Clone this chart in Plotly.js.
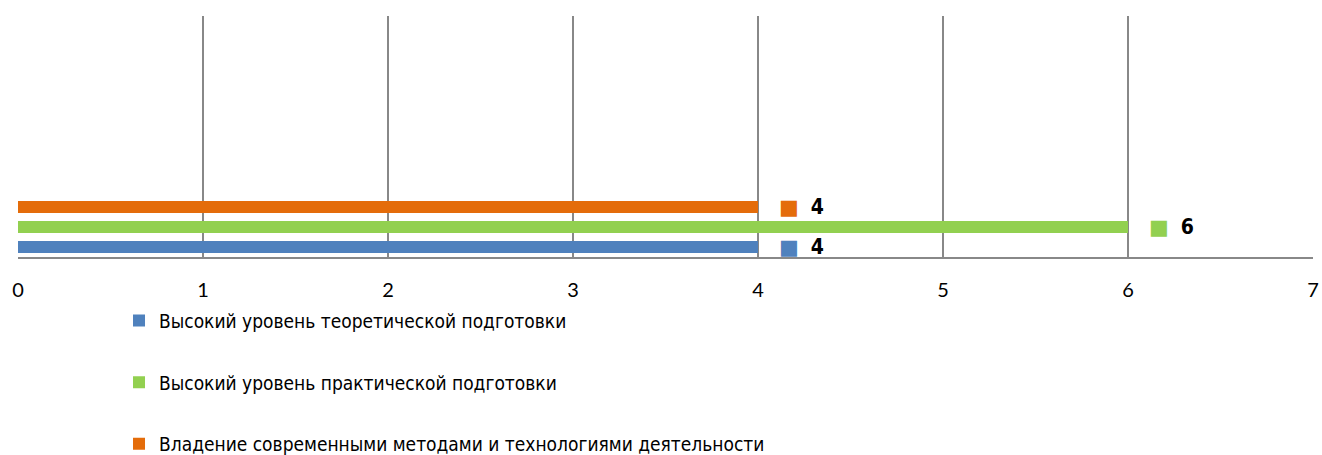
<!DOCTYPE html>
<html><head><meta charset="utf-8">
<script src="https://cdn.plot.ly/plotly-3.0.1.min.js"></script>
<style>html,body{margin:0;padding:0;background:#fff;}#chart{width:1322px;height:455px;}</style>
</head><body><div id="chart"></div>
<script>
var categories = ["Категория"];
var seriesNames = [
  "Высокий уровень теоретической подготовки",
  "Высокий уровень практической подготовки",
  "Владение современными методами и технологиями деятельности"
];
var seriesValues = [[4], [6], [4]];
var seriesColors = ["#4F81BD", "#92D050", "#E46C0A"];
var xTickVals = [0, 1, 2, 3, 4, 5, 6, 7];

var narrow = "Liberation Sans Narrow, DejaVu Sans Condensed, sans-serif";

var traces = seriesNames.map(function(name, i){
  return {
    type: "bar", orientation: "h", name: name,
    y: categories, x: seriesValues[i],
    marker: {color: seriesColors[i]},
    legendgroup: "g" + i,
    texttemplate: "&nbsp;&nbsp;&nbsp;<span style='color:" + seriesColors[i] + ";font-family:DejaVu Sans;font-size:21px'>■</span>&nbsp;&nbsp;<b>%{x}</b>",
    textposition: "outside",
    constraintext: "none",
    cliponaxis: false,
    textfont: {family: narrow, size: 21, color: "#000"},
    hoverinfo: "skip"
  };
});

var layout = {
  width: 1322, height: 455,
  margin: {l: 18, r: 9, t: 16, b: 198, autoexpand: false},
  paper_bgcolor: "#fff", plot_bgcolor: "#fff",
  barmode: "group", bargap: 0, bargroupgap: 0.4,
  showlegend: true,
  legend: {
    orientation: "v", x: 0.078, y: -0.185, xanchor: "left", yanchor: "top",
    tracegroupgap: 34, traceorder: "grouped",
    font: {family: narrow, size: 19, color: "#000"}
  },
  xaxis: {
    range: [0, 7], tickvals: xTickVals, ticktext: xTickVals.map(String),
    showgrid: true, gridcolor: "#888888", gridwidth: 1.5,
    zeroline: false, showline: true, linecolor: "#888888", linewidth: 1.5,
    ticks: "", ticklabelstandoff: 14,
    tickfont: {family: "Lato, Carlito, sans-serif", size: 20, color: "#000"},
    automargin: false, fixedrange: true
  },
  yaxis: {
    range: [-0.5, 3.517], showticklabels: false, showgrid: false,
    zeroline: false, showline: false, ticks: "", automargin: false, fixedrange: true
  }
};
Plotly.newPlot("chart", traces, layout, {displayModeBar: false, staticPlot: true});
</script></body></html>
